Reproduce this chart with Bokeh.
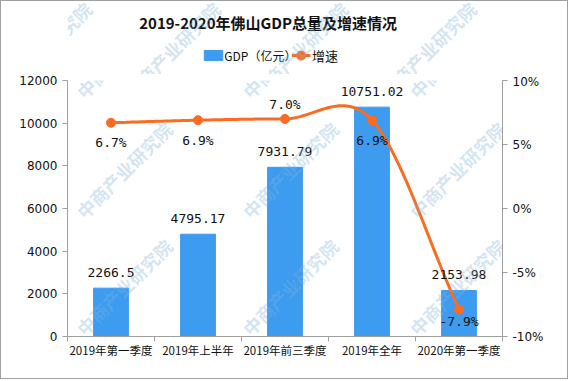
import numpy as np
from bokeh.plotting import figure
from bokeh.layouts import column
from bokeh.models import (ColumnDataSource, Range1d, LinearAxis, FixedTicker,
                          CustomJSTickFormatter, LabelSet, Label)
from bokeh.core.properties import value
from bokeh.embed import file_html
from bokeh.resources import INLINE

# ---------------- data ----------------
title_text = "2019-2020年佛山GDP总量及增速情况"
legend_labels = ["GDP（亿元）", "增速"]
categories = ["2019年第一季度", "2019年上半年", "2019年前三季度", "2019年全年", "2020年第一季度"]
gdp = [2266.5, 4795.17, 7931.79, 10751.02, 2153.98]
growth = [6.7, 6.9, 7.0, 6.9, -7.9]
gdp_labels = ["2266.5", "4795.17", "7931.79", "10751.02", "2153.98"]
growth_labels = ["6.7%", "6.9%", "7.0%", "6.9%", "-7.9%"]
left_ticks = [0, 2000, 4000, 6000, 8000, 10000, 12000]
right_ticks = [-10, -5, 0, 5, 10]
watermark = "中商产业研究院"

# ---------------- style ----------------
BLUE = "#3d9bf0"
ORANGE = "#fd6b21"
AXIS = "#a0a0a0"
TXT = "#111111"
CJK = "Noto Sans CJK SC"
WM_COLOR = "#7fb3dd"
W = 566
HEAD_H = 73
MAIN_H = 304
FL, FR, FT, FB = 66, 65, 6, 42           # main frame borders
growth_label_offsets = [-20, -20, 14, -20, -12]
wm_cols = [-101, 66, 232, 399, 566]       # watermark anchors (screen px, inner)
wm_rows = [102, 222, 339, 459]
WM_SIZE = 18

# ---------- header: title + legend ----------
h = figure(width=W, height=HEAD_H, output_backend="svg", toolbar_location=None,
           x_range=Range1d(0, W), y_range=Range1d(0, HEAD_H),
           x_axis_location=None, y_axis_location=None,
           min_border_left=0, min_border_right=0, min_border_top=0, min_border_bottom=0)
h.grid.visible = False
h.outline_line_color = None

for cx_ in wm_cols:
    for cy_ in wm_rows:
        h.add_layout(Label(x=cx_ + 12, y=HEAD_H - (cy_ - 9), text=watermark, angle=45,
                           angle_units="deg", text_font=CJK, text_font_size=f"{WM_SIZE}px",
                           text_font_style="bold", text_color=WM_COLOR, text_alpha=0.35,
                           text_baseline="middle", text_align="left"))

h.text(x=[261], y=[HEAD_H - 21], text=[title_text], text_align="center",
       text_baseline="middle", text_font=value(CJK), text_font_size="15px",
       text_font_style="bold", text_color=TXT)
ly = HEAD_H - 54
h.rect(x=[190], y=[ly], width=24, height=10, color=BLUE)
h.text(x=[204], y=[ly], text=[legend_labels[0]], text_align="left", text_baseline="middle",
       text_font=value(CJK), text_font_size="12px", text_color=TXT)
h.line(x=[292, 316], y=[ly, ly], line_color=ORANGE, line_width=3)
h.scatter(x=[304], y=[ly], size=9, color=ORANGE)
h.text(x=[318], y=[ly], text=[legend_labels[1]], text_align="left", text_baseline="middle",
       text_font=value(CJK), text_font_size="13px", text_color=TXT)

# ---------- main chart ----------
n = len(categories)
xc = [i + 0.5 for i in range(n)]
YMAX = left_ticks[-1]

p = figure(width=W, height=MAIN_H, output_backend="svg", toolbar_location=None,
           x_range=Range1d(0, n), y_range=Range1d(0, YMAX),
           min_border_left=FL, min_border_right=FR, min_border_top=FT,
           min_border_bottom=FB)
p.outline_line_color = None
p.grid.visible = False
p.extra_y_ranges = {"pct": Range1d(right_ticks[0], right_ticks[-1])}

src = ColumnDataSource(dict(x=xc, gdp=gdp, g=growth, gl=gdp_labels, pl=growth_labels,
                            off=growth_label_offsets))
p.vbar(x="x", top="gdp", width=0.4, color=BLUE, source=src)

# smooth (Catmull-Rom) curve through the growth points
xs_pts = np.array(xc)
ys_pts = np.array(growth, dtype=float)
m = np.zeros(n)
m[0] = ys_pts[1] - ys_pts[0]
m[-1] = ys_pts[-1] - ys_pts[-2]
for i in range(1, n - 1):
    m[i] = (ys_pts[i + 1] - ys_pts[i - 1]) / 2
cx, cy = [], []
for i in range(n - 1):
    t = np.linspace(0, 1, 30)
    h00 = 2 * t**3 - 3 * t**2 + 1
    h10 = t**3 - 2 * t**2 + t
    h01 = -2 * t**3 + 3 * t**2
    h11 = t**3 - t**2
    cy.extend(h00 * ys_pts[i] + h10 * m[i] + h01 * ys_pts[i + 1] + h11 * m[i + 1])
    cx.extend(xs_pts[i] + t)
p.line(cx, cy, line_color=ORANGE, line_width=3, y_range_name="pct")
p.scatter("x", "g", size=9, color=ORANGE, y_range_name="pct", source=src)

# axes
p.xaxis.ticker = FixedTicker(ticks=xc, minor_ticks=list(range(n + 1)))
p.xaxis.major_label_overrides = {x: c for x, c in zip(xc, categories)}
p.xaxis.major_tick_out = 0
p.xaxis.major_tick_in = 0
p.xaxis.minor_tick_out = 5
p.xaxis.minor_tick_in = 0
p.xaxis.minor_tick_line_color = AXIS
p.xaxis.axis_line_color = AXIS
p.xaxis.major_label_text_font = CJK
p.xaxis.major_label_text_font_size = "11.5px"
p.xaxis.major_label_text_color = TXT
p.xaxis.major_label_standoff = 0

p.yaxis.ticker = FixedTicker(ticks=left_ticks)
p.yaxis.minor_tick_line_color = None
p.yaxis.major_tick_out = 5
p.yaxis.major_tick_in = 0
p.yaxis.major_tick_line_color = AXIS
p.yaxis.axis_line_color = AXIS
p.yaxis.major_label_text_font = "DejaVu Sans"
p.yaxis.major_label_text_font_size = "12px"
p.yaxis.major_label_text_color = TXT

ra = LinearAxis(y_range_name="pct", ticker=FixedTicker(ticks=right_ticks),
                formatter=CustomJSTickFormatter(code="return tick + '%';"))
ra.minor_tick_line_color = None
ra.major_tick_out = 5
ra.major_tick_in = 0
ra.major_tick_line_color = AXIS
ra.axis_line_color = AXIS
ra.major_label_text_font = "DejaVu Sans"
ra.major_label_text_font_size = "12px"
ra.major_label_text_color = TXT
p.add_layout(ra, "right")

# data labels
p.add_layout(LabelSet(x="x", y="gdp", text="gl", source=src, text_align="center",
                      text_baseline="middle", y_offset=16,
                      text_font=value("DejaVu Sans Mono"),
                      text_font_size="13px", text_color=TXT))
p.add_layout(LabelSet(x="x", y="g", text="pl", source=src, y_range_name="pct",
                      text_align="center", text_baseline="middle", y_offset="off",
                      text_font=value("DejaVu Sans Mono"), text_font_size="13px",
                      text_color=TXT))

# watermarks (screen px -> data coords of the main frame)
frame_w = W - FL - FR
frame_h = MAIN_H - FT - FB
for cx_ in wm_cols:
    for cy_ in wm_rows:
        sx = cx_ + 12
        sy = cy_ - 9 - HEAD_H
        p.add_layout(Label(x=(sx - FL) / frame_w * n, y=(FT + frame_h - sy) / frame_h * YMAX,
                           text=watermark, angle=45, angle_units="deg", text_font=CJK,
                           text_font_size=f"{WM_SIZE}px", text_font_style="bold",
                           text_color=WM_COLOR, text_alpha=0.35,
                           text_baseline="middle", text_align="left"))

layout = column(h, p, spacing=0, styles={"border": "1px solid #a0a0a0"})
open("out.html", "w").write(file_html(layout, INLINE))
